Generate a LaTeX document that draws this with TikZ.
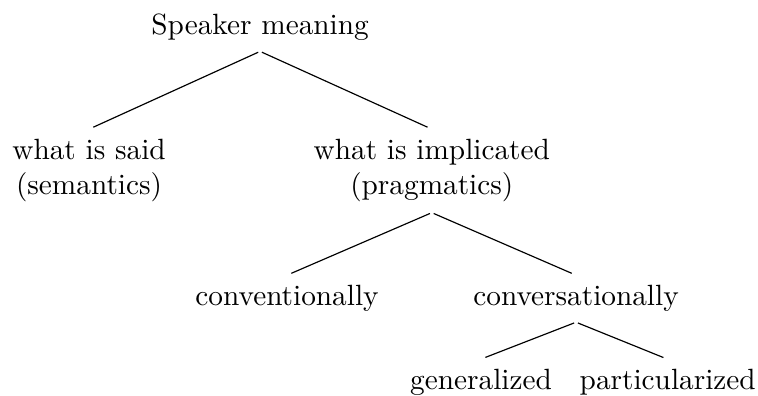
\documentclass[tikz,border=0pt]{standalone}
\usetikzlibrary{calc}
\begin{document}
\begin{tikzpicture}[term/.style={align=center}, branch/.style={shorten <=.7pt, shorten >=1.6pt}]
    \useasboundingbox (0,0) rectangle (9.093,-4.750);

    \node[term] (speaker) at (3.12,-.332) {Speaker meaning};

    \node[term] (said) at (1.068,-2.05) {what is said\\(semantics)};
    \node[term] (implicated) at (5.18,-2.05) {what is implicated\\(pragmatics)};

    \node[term] (conventional) at (3.443,-3.583) {conventionally};
    \node[term] (conversational) at (6.91,-3.583) {conversationally};

    \node[term] (general) at (5.77,-4.59) {generalized};
    \node[term] (particular) at (8.01,-4.59) {particularized};

    \draw[branch] (speaker.south) -- (said.north);
    \draw[branch] (speaker.south) -- (implicated.north);
    \draw[branch] (implicated.south) -- (conventional.north);
    \draw[branch] (implicated.south) -- (conversational.north);
    \draw[branch] (conversational.south) -- (general.north);
    \draw[branch] (conversational.south) -- (particular.north);
\end{tikzpicture}
\end{document}
